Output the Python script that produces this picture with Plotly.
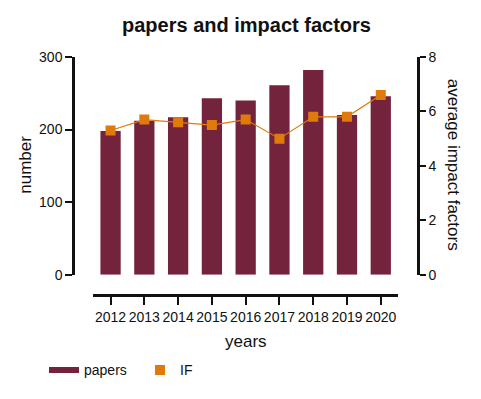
import plotly.graph_objects as go

years = ["2012", "2013", "2014", "2015", "2016", "2017", "2018", "2019", "2020"]
papers = [198, 212, 217, 243, 240, 261, 282, 220, 246]
impact = [5.3, 5.7, 5.6, 5.5, 5.7, 5.0, 5.8, 5.8, 6.6]

BAR = "#74233D"
ORANGE = "#E07A0C"
FONT = "Liberation Sans, Arial, sans-serif"

fig = go.Figure()
fig.add_trace(go.Bar(x=years, y=papers, name="papers", marker=dict(color=BAR, line=dict(width=0)),
                     width=0.6, yaxis="y", showlegend=False))
fig.add_trace(go.Scatter(x=years, y=impact, name="IF", mode="lines+markers", yaxis="y2",
                         line=dict(color=ORANGE, width=1.2), showlegend=False,
                         marker=dict(symbol="square", size=10, color=ORANGE)))
fig.add_trace(go.Scatter(x=[None], y=[None], name="papers", mode="lines",
                         line=dict(color=BAR, width=6), yaxis="y"))
fig.add_trace(go.Scatter(x=[None], y=[None], name="IF", mode="markers", yaxis="y2",
                         marker=dict(symbol="square", size=10, color=ORANGE)))

W, H = 481, 399
l, r, t, b = 73, 63, 57, 99
pw = W - l - r
ph = H - t - b

def px(xp):
    return (xp - l) / pw

def py(yp):
    return (H - b - yp) / ph

axis_common = dict(showline=True, linecolor="#111", linewidth=2.5, ticks="outside",
                   tickwidth=2, tickcolor="#111", showgrid=False, zeroline=False,
                   tickfont=dict(size=14, color="#111"), automargin=False)

fig.update_layout(
    width=W, height=H,
    margin=dict(l=l, r=r, t=t, b=b, pad=0),
    paper_bgcolor="white", plot_bgcolor="white",
    font=dict(family=FONT, size=14, color="#111"),
    title=dict(text="<b>papers and impact factors</b>", x=px(246.5), xanchor="center", xref="paper",
               y=1 - 25 / H, yanchor="middle", font=dict(size=20, color="#111")),
    xaxis=dict(type="category", domain=[px(93), px(398)], range=[-0.52, 8.51],
               anchor="free", position=0, ticklen=8, **axis_common),
    yaxis=dict(domain=[py(279.3), 1], range=[0, 300], tickvals=[0, 100, 200, 300],
               anchor="free", position=0, ticklen=7, **axis_common),
    yaxis2=dict(domain=[py(279.3), 1], range=[0, 8], tickvals=[0, 2, 4, 6, 8],
                overlaying="y", side="right", anchor="free", position=1, ticklen=6,
                **axis_common),
    legend=dict(orientation="h", x=px(44), xanchor="left", y=py(377), yanchor="middle",
                font=dict(size=14), traceorder="normal", itemwidth=30,
                entrywidth=51, entrywidthmode="pixels"),
    showlegend=True,
    annotations=[
        dict(text="years", x=px(246), y=py(347.7), xref="paper", yref="paper",
             xanchor="center", yanchor="middle", showarrow=False, font=dict(size=17)),
        dict(text="number", x=px(26), y=py(167), xref="paper", yref="paper", textangle=-90,
             xanchor="center", yanchor="middle", showarrow=False, font=dict(size=17)),
        dict(text="average impact factors", x=px(453), y=py(167), xref="paper", yref="paper",
             textangle=90, xanchor="center", yanchor="middle", showarrow=False,
             font=dict(size=17)),
    ],
)

fig.write_html("out.html", post_script="document.body.style.margin='0px';",
               config={"displayModeBar": False})
